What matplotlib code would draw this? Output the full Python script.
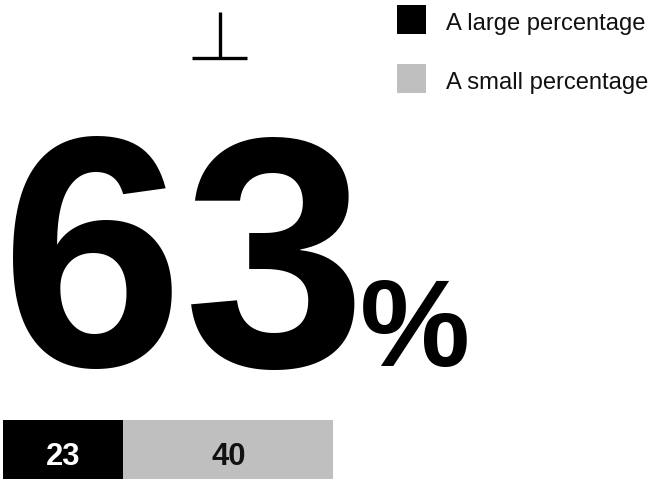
import matplotlib
matplotlib.use("Agg")
import matplotlib.pyplot as plt
from matplotlib.patches import Rectangle
from matplotlib.lines import Line2D
from matplotlib.textpath import TextPath
from matplotlib.font_manager import FontProperties

# ---- data ----
categories = ["A large percentage", "A small percentage"]
values = [23, 40]
colors = ["#000000", "#bfbfbf"]
label_colors = ["#ffffff", "#111111"]

W, H = 653, 486
DPI = 100
FONT = "Liberation Sans"
PX = DPI / 72.0


def ink(s, size, weight):
    fp = FontProperties(family=FONT, weight=weight)
    ext = TextPath((0, 0), s, size=size, prop=fp).get_extents()
    return ext.x0 * PX, ext.x1 * PX, ext.y0 * PX, ext.y1 * PX


def fit_text(ax, s, height_px, left_px, bottom_px, weight="normal",
             color="black", center_x=None):
    # fontsize so that ink height equals height_px
    x0, x1, y0, y1 = ink(s, 100, weight)
    size = 100 * height_px / (y1 - y0)
    x0, x1, y0, y1 = ink(s, size, weight)
    base_y = bottom_px + y0  # y axis downward: ink bottom = base - y0
    if center_x is not None:
        left_px = center_x - (x1 - x0) / 2
    base_x = left_px - x0
    ax.text(base_x, base_y, s, ha="left", va="baseline", color=color,
            fontsize=size, fontweight=weight, family=FONT)
    return size


fig = plt.figure(figsize=(W / DPI, H / DPI), dpi=DPI)
fig.patch.set_facecolor("white")

# ---- stacked bar ----
bx0, bx1, by0, by1 = 3, 333, 420, 479
bax = fig.add_axes([bx0 / W, (H - by1) / H, (bx1 - bx0) / W, (by1 - by0) / H])
total = sum(values)
left = 0
for v, c in zip(values, colors):
    bax.barh(0, v, left=left, height=1.0, color=c, edgecolor="none")
    left += v
bax.set_xlim(0, total)
bax.set_ylim(-0.5, 0.5)
bax.axis("off")

# overlay axes in pixel coordinates (y downward)
ov = fig.add_axes([0, 0, 1, 1])
ov.set_xlim(0, W)
ov.set_ylim(H, 0)
ov.axis("off")
ov.set_zorder(5)
ov.patch.set_alpha(0)

left = 0
for v, lc in zip(values, label_colors):
    cx = bx0 + (left + v / 2) / total * (bx1 - bx0)
    fit_text(ov, str(v), 22, 0, 465, weight="bold", color=lc, center_x=cx)
    left += v

# ---- big number ----
fit_text(ov, f"{total}", 233, 13, 370, weight="bold")
fit_text(ov, "%", 87, 363, 367, weight="bold")

# ---- ⊥ marker ----
ov.add_line(Line2D([219.5, 219.5], [12, 58], color="black", lw=2.4,
                   solid_capstyle="butt"))
ov.add_line(Line2D([192, 247], [58, 58], color="black", lw=2.4,
                   solid_capstyle="butt"))

# ---- legend ----
leg_y = [5, 64]
lx0, lx1, _, _ = ink(categories[0], 100, "normal")
leg_size = 100 * 198 / (lx1 - lx0)
lx0, _, _, _ = ink(categories[0], leg_size, "normal")
for cat, c, y in zip(categories, colors, leg_y):
    ov.add_patch(Rectangle((397, y), 29, 29, facecolor=c, edgecolor="none"))
    ov.text(446 - lx0, y + 25, cat, ha="left", va="baseline", color="#111111",
            fontsize=leg_size, family=FONT)

fig.savefig("out.png", dpi=DPI, facecolor="white")
